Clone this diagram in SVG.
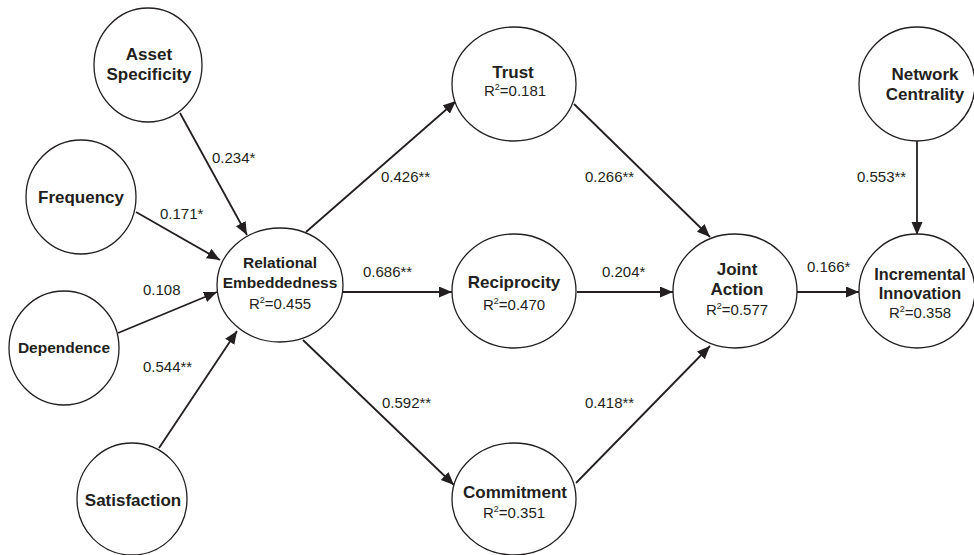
<svg xmlns="http://www.w3.org/2000/svg" width="974" height="555" viewBox="0 0 974 555">
<defs>
<marker id="ah" markerUnits="userSpaceOnUse" markerWidth="14" markerHeight="12" refX="13" refY="5.5" orient="auto">
<path d="M0,0 L13,5.5 L0,11 Z" fill="#231f20"/>
</marker>
<style>
.n ellipse{fill:#fff;stroke:#231f20;stroke-width:1.3}
.t{font-family:"Liberation Sans",Arial,sans-serif;font-weight:bold;font-size:17px;fill:#231f20;text-anchor:middle}
.sm{font-size:15.5px}
.md{font-size:16.3px}
.r{font-family:"Liberation Sans",Arial,sans-serif;font-size:15px;fill:#231f20;text-anchor:middle}
.l{font-family:"Liberation Sans",Arial,sans-serif;font-size:15px;fill:#231f20}
.s{font-size:9px}
#edges line{stroke:#231f20;stroke-width:1.8;marker-end:url(#ah)}
</style>
</defs>
<rect width="974" height="555" fill="#fff"/>
<g id="edges">
<line x1="180" y1="113" x2="247" y2="235"/>
<line x1="136" y1="212" x2="220" y2="260"/>
<line x1="118" y1="333" x2="217" y2="292"/>
<line x1="159" y1="448" x2="237" y2="331"/>
<line x1="306" y1="232" x2="456" y2="101"/>
<line x1="343" y1="292" x2="452" y2="292"/>
<line x1="303" y1="340" x2="454" y2="485"/>
<line x1="574" y1="104" x2="710" y2="237"/>
<line x1="577" y1="292" x2="673" y2="292"/>
<line x1="576" y1="483" x2="710" y2="346"/>
<line x1="797" y1="292" x2="859" y2="292"/>
<line x1="917" y1="141" x2="917" y2="235"/>
</g>
<g id="edge-labels">
<text class="l" x="212" y="163">0.234*</text>
<text class="l" x="160" y="219">0.171*</text>
<text class="l" x="143" y="295">0.108</text>
<text class="l" x="143" y="372">0.544**</text>
<text class="l" x="381" y="182">0.426**</text>
<text class="l" x="585" y="182">0.266**</text>
<text class="l" x="363" y="277">0.686**</text>
<text class="l" x="602" y="277">0.204*</text>
<text class="l" x="382" y="408">0.592**</text>
<text class="l" x="585" y="408">0.418**</text>
<text class="l" x="807" y="272">0.166*</text>
<text class="l" x="857" y="182">0.553**</text>
</g>
<g id="asset" class="n"><ellipse cx="148" cy="65" rx="54" ry="57"/><text class="t" x="149" y="60">Asset</text><text class="t" x="149" y="80">Specificity</text></g>
<g id="frequency" class="n"><ellipse cx="81" cy="197" rx="55" ry="57"/><text class="t" x="81" y="203">Frequency</text></g>
<g id="dependence" class="n"><ellipse cx="64" cy="348" rx="55" ry="57"/><text class="t sm" x="64" y="353">Dependence</text></g>
<g id="satisfaction" class="n"><ellipse cx="132" cy="499" rx="55" ry="56"/><text class="t" x="133" y="506">Satisfaction</text></g>
<g id="relational" class="n"><ellipse cx="280" cy="285" rx="63" ry="57"/><text class="t sm" x="280" y="268">Relational</text><text class="t sm" x="280" y="288">Embeddedness</text><text class="r" x="280" y="309">R<tspan class="s" dy="-6">2</tspan><tspan dy="6">=0.455</tspan></text></g>
<g id="trust" class="n"><ellipse cx="514" cy="84" rx="62" ry="57"/><text class="t" x="513" y="78">Trust</text><text class="r" x="515" y="96">R<tspan class="s" dy="-6">2</tspan><tspan dy="6">=0.181</tspan></text></g>
<g id="reciprocity" class="n"><ellipse cx="514" cy="291" rx="62" ry="57"/><text class="t" x="514" y="288">Reciprocity</text><text class="r" x="514" y="310">R<tspan class="s" dy="-6">2</tspan><tspan dy="6">=0.470</tspan></text></g>
<g id="commitment" class="n"><ellipse cx="514" cy="499" rx="62" ry="56"/><text class="t" x="515" y="498">Commitment</text><text class="r" x="514" y="518">R<tspan class="s" dy="-6">2</tspan><tspan dy="6">=0.351</tspan></text></g>
<g id="joint" class="n"><ellipse cx="735" cy="291" rx="62" ry="57"/><text class="t" x="737" y="275">Joint</text><text class="t" x="737" y="295">Action</text><text class="r" x="737" y="315">R<tspan class="s" dy="-6">2</tspan><tspan dy="6">=0.577</tspan></text></g>
<g id="network" class="n"><ellipse cx="917" cy="84" rx="58" ry="57"/><text class="t" x="925" y="80">Network</text><text class="t" x="925" y="100">Centrality</text></g>
<g id="incremental" class="n"><ellipse cx="917" cy="291" rx="58" ry="57"/><text class="t md" x="920" y="280">Incremental</text><text class="t md" x="920" y="299">Innovation</text><text class="r" x="920" y="318">R<tspan class="s" dy="-6">2</tspan><tspan dy="6">=0.358</tspan></text></g>
</svg>
